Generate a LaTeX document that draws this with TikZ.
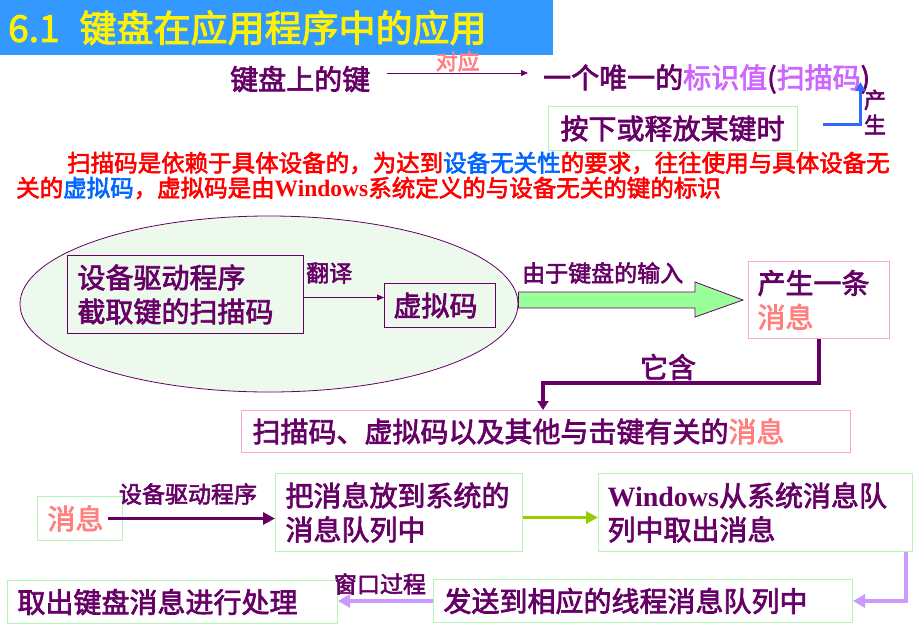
\documentclass[tikz,border=0pt]{standalone}
\usepackage{fontspec}
\setmainfont[FakeBold=2.5]{Noto Sans CJK SC}
\newfontfamily\tnr{Liberation Serif}
\usetikzlibrary{shapes.geometric,arrows.meta,calc}
\definecolor{pur}{HTML}{660066}
\definecolor{vio}{HTML}{CC66FF}
\definecolor{pinkt}{HTML}{FF7F7F}
\definecolor{gborder}{HTML}{B3F5B3}
\definecolor{pborder}{HTML}{FFA6CC}
\definecolor{titleblue}{HTML}{3399FF}
\definecolor{lgreen}{HTML}{99FF99}
\definecolor{ellfill}{HTML}{EEF9EE}
\definecolor{ygreen}{HTML}{99CC00}
\definecolor{lav}{HTML}{CC99FF}
\definecolor{arrblue}{HTML}{3366FF}
\definecolor{blu}{HTML}{0066FF}
\definecolor{redt}{HTML}{FF0000}
\tikzset{
  txt/.style={inner sep=0pt, text=pur},
  big/.style={font=\fontsize{28}{34}\selectfont},
  lab/.style={font=\fontsize{23}{26}\selectfont},
  gbox/.style={draw=gborder, line width=1pt, anchor=north west, align=left, text=pur, inner ysep=0pt, big},
  pbox/.style={gbox, draw=pborder},
  thinarrow/.style={draw=pur, line width=1pt, -{Triangle[length=7pt,width=6pt]}},
  fatarrow/.style={line width=3.5pt, -{Triangle[length=12pt,width=12pt]}}
}
\begin{document}
\begin{tikzpicture}[x=1pt,y=-1pt]
\useasboundingbox (0,0) rectangle (920,637);
\fill[white] (0,0) rectangle (920,637);
% title
\node[fill=titleblue, anchor=north west, minimum width=553pt, minimum height=55pt,
  inner xsep=8pt, inner ysep=0pt, text width=537pt, align=left, text=yellow,
  font=\fontsize{37}{40}\selectfont] (title) at (0,0) {6.1\hspace{20pt}键盘在应用程序中的应用};
% top row
\node[txt,big,anchor=west] (k1) at (230,79) {键盘上的键};
\node[txt,big,anchor=west] (uid) at (543,79) {一个唯一的{\color{vio}标识值}({\color{vio}扫描码})};
\draw[thinarrow] ($(k1.east)+(17,-6)$) -- ($(uid.west)+(-15,-6)$)
  node[midway, above=1pt, inner sep=0pt, text=pinkt, font=\fontsize{22}{24}\selectfont] {对应};
\node[gbox, minimum width=249pt, minimum height=44pt, inner xsep=12pt, text width=225pt] (keybox) at (548,106) {按下或释放某键时};
\draw[arrblue, line width=3pt, -{Triangle[length=9pt,width=10pt]}]
  ($(keybox.east)+(25,-4)$) -| ($(uid.east)+(-10,3)$);
\node[txt, font=\fontsize{22}{25}\selectfont, align=center] (cs) at (875,112) {产\\生};
% red paragraph
\node[anchor=west, inner sep=0pt, text=redt, font=\fontsize{23.5}{26}\selectfont] (p1) at (67,163)
  {扫描码是依赖于具体设备的，为达到{\color{blu}设备无关性}的要求，往往使用与具体设备无};
\node[anchor=west, inner sep=0pt, text=redt, font=\fontsize{23.5}{26}\selectfont] (p2) at (16,188)
  {关的{\color{blu}虚拟码}，虚拟码是由{\tnr\bfseries Windows}系统定义的与设备无关的键的标识};
% ellipse group
\node[ellipse, draw=pur, line width=0.8pt, fill=ellfill, minimum width=498pt, minimum height=176pt, inner sep=0pt] (ell) at (269,304) {};
\node[gbox, draw=pur, minimum width=236pt, minimum height=78pt, inner xsep=10pt, text width=216pt] (drv) at (67,255) {设备驱动程序\\截取键的扫描码};
\node[gbox, draw=pur, minimum width=111pt, minimum height=44pt, inner xsep=9pt, text width=93pt] (vk) at (384,283) {虚拟码};
\draw[thinarrow] ($(drv.east)+(0,3)$) -- ($(vk.west)+(0,-8)$);
\node[txt, lab, anchor=west] (fy) at (306,273) {翻译};
% message box
\node[pbox, minimum width=141pt, minimum height=77pt, inner xsep=9pt, text width=123pt] (msg) at (748,261) {产生一条\\{\color{pinkt}消息}};
\coordinate (bh) at ($(msg.west)+(-5,0)$);
\coordinate (bt) at (ell.east |- bh);
\filldraw[fill=lgreen, draw=pur, line width=0.8pt]
  ($(bt)+(0,-8)$) -- ($(bh)+(-48,-8)$) -- ($(bh)+(-48,-18)$) -- (bh) --
  ($(bh)+(-48,17)$) -- ($(bh)+(-48,8)$) -- ($(bt)+(0,8)$) -- cycle;
\node[txt, lab, anchor=west] (yu) at (522,273) {由于键盘的输入};
% contains
\node[pbox, minimum width=609pt, minimum height=42pt, inner xsep=11pt, text width=587pt] (cont) at (241,410) {扫描码、虚拟码以及其他与击键有关的{\color{pinkt}消息}};
\coordinate (tj) at (543,383);
\draw[pur, line width=3.5pt, -{Triangle[length=9pt,width=11pt]}] (msg.south) |- (tj) -- (tj |- cont.north);
\node[txt, big] (th) at (668,367) {它含};
% lower flow
\node[gbox, minimum width=85pt, minimum height=44pt, inner xsep=10pt, text width=65pt, text=pinkt] (msg2) at (37,496) {消息};
\node[gbox, minimum width=247pt, minimum height=78pt, inner xsep=10pt, text width=227pt] (put) at (275,473) {把消息放到系统的\\消息队列中};
\node[gbox, minimum width=314pt, minimum height=78pt, inner xsep=9pt, text width=296pt] (win) at (598,473) {{\tnr\bfseries Windows}从系统消息队\\列中取出消息};
\node[gbox, minimum width=419pt, minimum height=43pt, inner xsep=10pt, text width=399pt] (send) at (433,579) {发送到相应的线程消息队列中};
\node[gbox, minimum width=330pt, minimum height=43pt, inner xsep=10pt, text width=310pt] (proc) at (7,580) {取出键盘消息进行处理};
\draw[pur, fatarrow] ($(msg2.east)+(-15,0)$) -- (put.west |- msg2.east);
\node[txt, lab] (sd) at (188,494) {设备驱动程序};
\draw[ygreen, fatarrow] ($(put.east)+(0,5)$) -- ($(win.west)+(0,5)$);
\draw[lav, line width=4pt, -{Triangle[length=12pt,width=13pt]}] ($(win.south east)+(-7,0)$) |- (send.east);
\draw[lav, line width=4pt, -{Triangle[length=12pt,width=13pt]}] (send.west) -- (proc.east |- send.west);
\node[txt, lab] (ck) at (380,584) {窗口过程};
\end{tikzpicture}
\end{document}
